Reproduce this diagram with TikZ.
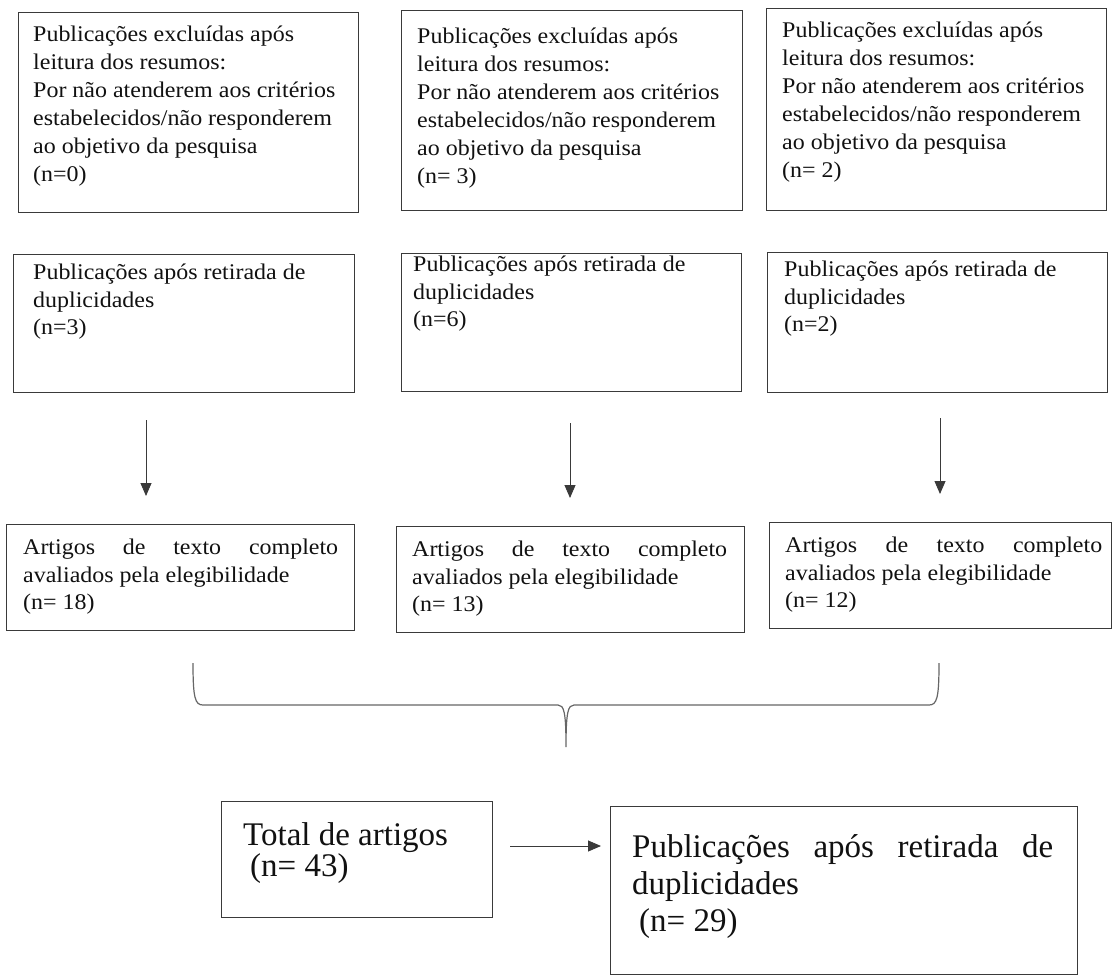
\documentclass[tikz,border=0pt]{standalone}
\usepackage{fontspec}
\setmainfont[FakeStretch=1.07]{Liberation Serif}
\newfontfamily\bigserif{Liberation Serif}
\usetikzlibrary{arrows.meta}
\definecolor{edge}{HTML}{3A3A3A}
\definecolor{ink}{HTML}{111111}
\begin{document}
\begin{tikzpicture}[x=1pt,y=-1pt,
  box/.style={draw=edge, line width=1.2pt, rectangle, inner sep=0pt, anchor=north west},
  txt/.style={anchor=north west, inner sep=0pt, align=left, text=ink, font=\fontsize{22.4}{27.5}\selectfont},
  txtA/.style={txt, font=\fontsize{22.4}{28}\selectfont},
  bigtxt/.style={anchor=north west, inner sep=0pt, align=left, text=ink},
  conn/.style={draw=edge, line width=0.9pt, -{Triangle[length=13pt,width=11pt]}},
  bracestyle/.style={draw=black!60, line width=1.2pt}]
\useasboundingbox[fill=white] (0,0) rectangle (1113,976);

% Row 1
\node[box, minimum width=340pt, minimum height=200pt] (e1) at (18,12) {};
\node[box, minimum width=341pt, minimum height=200pt] (e2) at (401,10) {};
\node[box, minimum width=340pt, minimum height=202pt] (e3) at (766,8) {};
\node[txtA] (te1) at (33,26) {Publicações excluídas após\\leitura dos resumos:\\Por não atenderem aos critérios\\estabelecidos/não responderem\\ao objetivo da pesquisa\\(n=0)};
\node[txtA] (te2) at (417,28) {Publicações excluídas após\\leitura dos resumos:\\Por não atenderem aos critérios\\estabelecidos/não responderem\\ao objetivo da pesquisa\\(n= 3)};
\node[txtA] (te3) at (782,22) {Publicações excluídas após\\leitura dos resumos:\\Por não atenderem aos critérios\\estabelecidos/não responderem\\ao objetivo da pesquisa\\(n= 2)};

% Row 2
\node[box, minimum width=341pt, minimum height=138pt] (d1) at (13,254) {};
\node[box, minimum width=340pt, minimum height=138pt] (d2) at (401,253) {};
\node[box, minimum width=340pt, minimum height=140pt] (d3) at (767,252) {};
\node[txt] (td1) at (33,264) {Publicações após retirada de\\duplicidades\\(n=3)};
\node[txt] (td2) at (413,256) {Publicações após retirada de\\duplicidades\\(n=6)};
\node[txt] (td3) at (784,261) {Publicações após retirada de\\duplicidades\\(n=2)};

% Row 3
\node[box, minimum width=348pt, minimum height=106pt] (a1) at (6,524) {};
\node[box, minimum width=348pt, minimum height=106pt] (a2) at (396,526) {};
\node[box, minimum width=342pt, minimum height=106pt] (a3) at (769,522) {};
\node[txt] (ta1) at (23,539) {\hbox to 315pt{Artigos\hfill de\hfill texto\hfill completo}\\avaliados pela elegibilidade\\(n= 18)};
\node[txt] (ta2) at (412,541) {\hbox to 315pt{Artigos\hfill de\hfill texto\hfill completo}\\avaliados pela elegibilidade\\(n= 13)};
\node[txt] (ta3) at (785,537) {\hbox to 317pt{Artigos\hfill de\hfill texto\hfill completo}\\avaliados pela elegibilidade\\(n= 12)};

% arrows row 2 -> row 3
\coordinate (s1) at (146,420); \coordinate (f1) at (146,496);
\coordinate (s2) at (570,423); \coordinate (f2) at (570,498);
\coordinate (s3) at (940,418); \coordinate (f3) at (940,494);
\draw[conn] (s1) -- (f1);
\draw[conn] (s2) -- (f2);
\draw[conn] (s3) -- (f3);

% brace
\coordinate (bl) at (193,663);
\coordinate (bt) at (566,747);
\coordinate (br) at (939,663);
\draw[bracestyle] (bl) .. controls (193,698) and (195,705) .. (203,705) -- (558,705)
  .. controls (564,705) and (566,712) .. (bt)
  .. controls (566,712) and (568,705) .. (574,705) -- (929,705)
  .. controls (937,705) and (939,698) .. (br);

% bottom
\node[box, minimum width=271pt, minimum height=116pt] (tot) at (221,801) {};
\node[bigtxt, font=\bigserif\fontsize{33}{30}\selectfont] (ttot) at (243,822) {Total de artigos\\\hspace{7pt}(n= 43)};
\node[box, minimum width=467pt, minimum height=168pt] (fin) at (610,806) {};
\node[bigtxt, font=\bigserif\fontsize{33}{37}\selectfont] (tfin) at (632,834) {\hbox to 421pt{Publicações\hfill após\hfill retirada\hfill de}\\duplicidades\\\hspace{7pt}(n= 29)};
\coordinate (bs) at (510,846);
\coordinate (bf) at (601,846);
\draw[conn] (bs) -- (bf);
\end{tikzpicture}
\end{document}
